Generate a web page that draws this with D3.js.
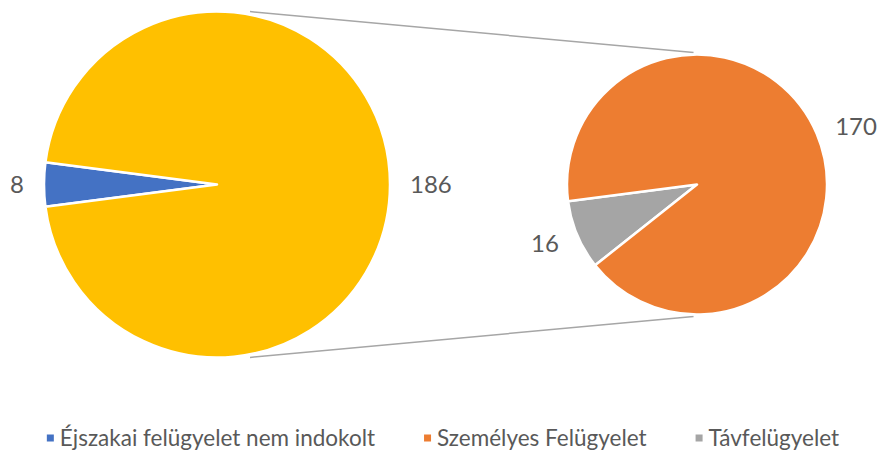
<!DOCTYPE html>
<html>
<head>
<meta charset="utf-8">
<script src="https://cdn.jsdelivr.net/npm/d3@7"></script>
<style>
  html, body { margin: 0; padding: 0; background: #fff; }
  svg text { font-family: Lato, "Open Sans", sans-serif; fill: #595959; }
</style>
</head>
<body>
<svg id="chart" width="877" height="452"></svg>
<script>
// Primary pie: the single category plus the combined "other" slice
const mainLabels = ["Éjszakai felügyelet nem indokolt", "Egyéb"];
const mainValues = [8, 186];
const mainColors = ["#4472c4", "#ffc000"];

// Secondary pie: breakdown of the "other" slice
const subLabels = ["Távfelügyelet", "Személyes Felügyelet"];
const subValues = [16, 170];
const subColors = ["#a5a5a5", "#ed7d31"];

// Legend entries (in display order)
const legendLabels = ["Éjszakai felügyelet nem indokolt", "Személyes Felügyelet", "Távfelügyelet"];
const legendColors = ["#4472c4", "#ed7d31", "#a5a5a5"];

const svg = d3.select("#chart");

const deg = Math.PI / 180;
const cy = 184.5;
const main = { cx: 217, r: 173 };
const sub = { cx: 697, r: 130 };

// Main pie: first slice centred on the left side
const mainSpan = mainValues[0] / d3.sum(mainValues) * 2 * Math.PI;
const mainStart = 270 * deg - mainSpan / 2;
const mainPie = d3.pie().sort(null).value(d => d)
  .startAngle(mainStart).endAngle(mainStart + 2 * Math.PI);

// Secondary pie: first slice starts just below the left side
const subStart = 231.6 * deg;
const subPie = d3.pie().sort(null).value(d => d)
  .startAngle(subStart).endAngle(subStart + 2 * Math.PI);

// Connector lines between the two pies
const connAngle = 10.8 * deg;
function polar(c, rr, a) {
  return [c.cx + rr * Math.sin(a), cy - rr * Math.cos(a)];
}
const connectors = [
  [polar(main, main.r + 3, connAngle), polar(sub, sub.r + 2, -1.5 * deg)],
  [polar(main, main.r + 3, Math.PI - connAngle), polar(sub, sub.r + 2, Math.PI + 1.5 * deg)]
];
svg.append("g").selectAll("line").data(connectors).join("line")
  .attr("x1", d => d[0][0]).attr("y1", d => d[0][1])
  .attr("x2", d => d[1][0]).attr("y2", d => d[1][1])
  .attr("stroke", "#a6a6a6").attr("stroke-width", 1.5);

function drawPie(c, pie, values, colors) {
  const arc = d3.arc().innerRadius(0).outerRadius(c.r);
  const g = svg.append("g").attr("transform", `translate(${c.cx},${cy})`);
  const arcs = pie(values);
  g.selectAll("path").data(arcs).join("path")
    .attr("d", arc)
    .attr("fill", (d, i) => colors[i])
    .attr("stroke", "#fff")
    .attr("stroke-width", 2.5)
    .attr("stroke-linejoin", "round");

  // Value labels placed just outside each slice
  g.selectAll("text").data(arcs).join("text")
    .each(function(d) {
      const a = (d.startAngle + d.endAngle) / 2;
      const rr = c.r + 20;
      const x = rr * Math.sin(a), y = -rr * Math.cos(a);
      d3.select(this)
        .attr("x", x).attr("y", y)
        .attr("text-anchor", Math.sin(a) < 0 ? "end" : "start");
    })
    .attr("dy", "0.36em")
    .attr("font-size", 24)
    .text(d => d.value);
}

drawPie(main, mainPie, mainValues, mainColors);
drawPie(sub, subPie, subValues, subColors);

// Legend
const legendY = 438;
const legend = svg.append("g");
const items = legend.selectAll("g").data(legendLabels).join("g");
items.append("rect")
  .attr("width", 7).attr("height", 7)
  .attr("y", legendY - 3.5)
  .attr("fill", (d, i) => legendColors[i]);
items.append("text")
  .attr("x", 13).attr("y", legendY).attr("dy", "0.36em")
  .attr("font-size", 22.5)
  .text(d => d);

const gap = 49;
let xPos = 0;
const widths = [];
items.each(function() { widths.push(this.getBBox().width); });
const total = d3.sum(widths) + gap * (widths.length - 1);
xPos = 443 - total / 2;
items.attr("transform", (d, i) => {
  const t = `translate(${xPos},0)`;
  xPos += widths[i] + gap;
  return t;
});
</script>
</body>
</html>
